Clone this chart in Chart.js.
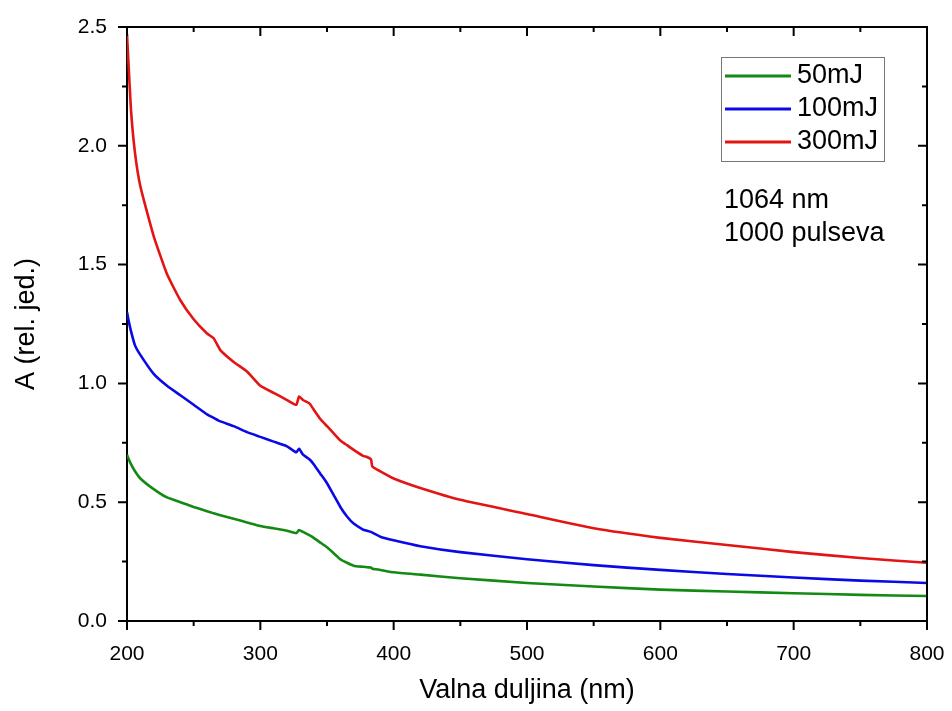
<!DOCTYPE html>
<html>
<head>
<meta charset="utf-8">
<script src="https://cdn.jsdelivr.net/npm/chart.js@4.4.0/dist/chart.umd.min.js"></script>
<style>
html,body{margin:0;padding:0;background:#fff;}
#wrap{width:952px;height:711px;}
</style>
</head>
<body>
<div id="wrap"><canvas id="c"></canvas></div>
<script>
const labels = ['50mJ','100mJ','300mJ'];
const colors = ['#138a13','#0a0ae6','#e31414'];
const noteLines = ['1064 nm','1000 pulseva'];

const wl = [200,201,203,206,210,220,230,240,250,260,265,270,280,290,300,310,320,327,329,332,337,340,345,350,355,360,365,370,377,380,383,384,390,400,420,450,500,550,600,650,700,750,800];
const e50 = [0.70,0.685,0.66,0.63,0.60,0.555,0.52,0.50,0.48,0.462,0.453,0.445,0.43,0.415,0.40,0.39,0.38,0.37,0.383,0.375,0.36,0.35,0.33,0.31,0.285,0.26,0.245,0.233,0.228,0.226,0.225,0.22,0.215,0.205,0.195,0.18,0.16,0.145,0.132,0.124,0.117,0.11,0.105];
const e100 = [1.30,1.27,1.22,1.16,1.12,1.04,0.99,0.95,0.91,0.87,0.855,0.84,0.82,0.795,0.775,0.755,0.735,0.71,0.725,0.70,0.68,0.66,0.62,0.58,0.53,0.48,0.44,0.41,0.385,0.38,0.375,0.372,0.355,0.34,0.315,0.29,0.26,0.235,0.215,0.198,0.183,0.17,0.16];
const e300 = [2.47,2.36,2.15,1.97,1.83,1.62,1.46,1.35,1.27,1.21,1.19,1.14,1.09,1.05,0.99,0.96,0.93,0.91,0.945,0.93,0.915,0.89,0.85,0.82,0.79,0.76,0.74,0.72,0.695,0.69,0.68,0.65,0.63,0.60,0.56,0.51,0.45,0.39,0.35,0.32,0.29,0.265,0.245];
const xTicks = [200,300,400,500,600,700,800];
const yTicks = [0,0.5,1.0,1.5,2.0,2.5];

const series = [e50,e100,e300];
const FONT = 'Liberation Sans, Arial, sans-serif';

function ticksAndFrame(chart){
  const {ctx, chartArea:a, scales:{x,y}} = chart;
  ctx.save();
  ctx.strokeStyle='#000'; ctx.lineWidth=2;
  ctx.beginPath();
  ctx.moveTo(a.left,a.top); ctx.lineTo(a.right,a.top); ctx.lineTo(a.right,a.bottom);
  for(let v=200; v<=800; v+=50){
    const px=x.getPixelForValue(v), L=(v%100===0)?9:5;
    ctx.moveTo(px,a.bottom); ctx.lineTo(px,a.bottom+L);
    ctx.moveTo(px,a.top); ctx.lineTo(px,a.top+L);
  }
  for(let i=0;i<=10;i++){
    const v=i*0.25, py=y.getPixelForValue(v), L=(i%2===0)?9:5;
    ctx.moveTo(a.left,py); ctx.lineTo(a.left-L,py);
    ctx.moveTo(a.right,py); ctx.lineTo(a.right-L,py);
  }
  ctx.stroke();
  // legend
  const bx=721, by=57, bw=163, bh=104;
  ctx.lineWidth=1; ctx.strokeStyle='#777';
  ctx.strokeRect(bx+0.5,by+0.5,bw,bh);
  ctx.font='27px '+FONT; ctx.textBaseline='middle'; ctx.fillStyle='#000';
  chart.data.datasets.forEach((d,i)=>{
    const ry=by+19+i*33;
    ctx.strokeStyle=d.borderColor; ctx.lineWidth=3;
    ctx.beginPath(); ctx.moveTo(bx+4,ry); ctx.lineTo(bx+70,ry); ctx.stroke();
    ctx.fillText(d.label,bx+76,ry);
  });
  noteLines.forEach((t,i)=>ctx.fillText(t,724,201+i*33));
  ctx.restore();
}

new Chart(document.getElementById('c'),{
  type:'line',
  data:{datasets:series.map((s,i)=>({
    label:labels[i],
    data:wl.map((w,j)=>({x:w,y:s[j]})),
    borderColor:colors[i],
    borderWidth:2.6,
    pointRadius:0,
    tension:0.15,
    fill:false
  }))},
  options:{
    responsive:true,
    maintainAspectRatio:false,
    animation:false,
    layout:{padding:{top:27,right:25,left:0,bottom:0}},
    plugins:{legend:{display:false},tooltip:{enabled:false}},
    scales:{
      x:{
        type:'linear',min:200,max:800,
        afterFit:s=>{s.height=90; s.paddingLeft=0; s.paddingRight=0;},
        afterBuildTicks:s=>{s.ticks=xTicks.map(v=>({value:v}));},
        grid:{display:false},
        border:{display:true,color:'#000',width:2},
        ticks:{color:'#000',font:{family:FONT,size:21},padding:13,maxRotation:0},
        title:{display:true,text:'Valna duljina (nm)',color:'#000',font:{family:FONT,size:27},padding:{top:0,bottom:4}}
      },
      y:{
        type:'linear',min:0,max:2.5,
        afterFit:s=>{s.width=127; s.paddingTop=0; s.paddingBottom=0;},
        afterBuildTicks:s=>{s.ticks=yTicks.map(v=>({value:v}));},
        grid:{display:false},
        border:{display:true,color:'#000',width:2},
        ticks:{color:'#000',font:{family:FONT,size:21},padding:12,callback:v=>v.toFixed(1)},
        title:{display:true,text:'A (rel. jed.)',color:'#000',font:{family:FONT,size:27},padding:{top:10,bottom:0}}
      }
    }
  },
  plugins:[{id:'frame',afterDraw:ticksAndFrame}]
});
</script>
</body>
</html>
